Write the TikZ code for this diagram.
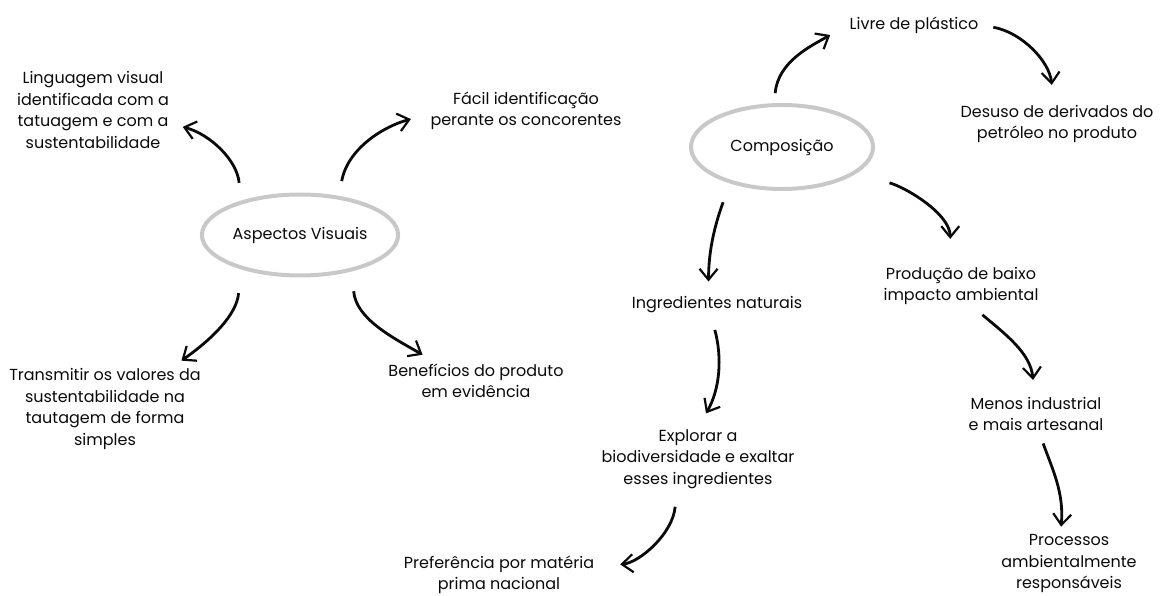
\documentclass[tikz,border=0pt]{standalone}
\usepackage{fontspec}
\setmainfont{Poppins}
\usepackage{tikz}
\usetikzlibrary{arrows.meta, shapes.geometric}
\definecolor{ringline}{HTML}{C8C8C8}
\definecolor{inkline}{HTML}{0A0A0A}
\tikzset{
  txt/.style   = {align=center, inner sep=2pt, text=inkline,
                  font=\fontsize{16}{21.5}\selectfont},
  ring/.style  = {ellipse, draw=ringline, line width=4pt, txt},
  flow/.style  = {-{Straight Barb[length=11pt, width=18pt, line width=2.2pt]},
                  line width=2.8pt, draw=inkline},
}
\begin{document}
\begin{tikzpicture}[x=1pt, y=1pt]
    \useasboundingbox (0,0) rectangle (1162,595);
    % left map
    \node[ring, minimum width=191pt, minimum height=81pt] (asp) at (300,360) {Aspectos Visuais};
    \node[txt] (ling)  at (93,485)  {Linguagem visual\\identificada com a\\tatuagem e com a\\sustentabilidade};
    \node[txt] (facil) at (526,484) {Fácil identificação\\perante os concorentes};
    \node[txt] (trans) at (105,186) {Transmitir os valores da\\sustentabilidade na\\tautagem de forma\\simples};
    \node[txt] (benef) at (476,214) {Benefícios do produto\\em evidência};
    % right map
    \node[ring, minimum width=182pt, minimum height=84pt] (comp) at (782,448) {Composição};
    \node[txt] (livre)   at (914,570)  {Livre de plástico};
    \node[txt] (desuso)  at (1057,471) {Desuso de derivados do\\petróleo no produto};
    \node[txt] (ingr)    at (717,290)  {Ingredientes naturais};
    \node[txt] (prod)    at (961,309)  {Produção de baixo\\impacto ambiental};
    \node[txt] (explo)   at (698,136)  {Explorar a\\biodiversidade e exaltar\\esses ingredientes};
    \node[txt] (pref)    at (499,20)   {Preferência por matéria\\prima nacional};
    \node[txt] (menos)   at (1036,181) {Menos industrial\\e mais artesanal};
    \node[txt] (proc)    at (1069,31)  {Processos\\ambientalmente\\responsáveis};
    % arrows
    \foreach \a/\b/\o/\i/\s/\e in {
        asp.150/ling.-10/95/-15/18pt/12pt,
        asp.45/facil.182/80/195/15pt/18pt,
        asp.210/trans.32/265/35/24pt/10pt,
        asp.-35/benef.155/-85/150/20pt/14pt,
        comp.100/livre.180/85/210/10pt/20pt,
        livre.0/desuso.100/-10/95/13pt/18pt,
        comp.215/ingr.129/250/90/20pt/13pt,
        comp.-20/prod.117/-15/90/35pt/26pt,
        ingr.-120/explo.90/-75/60/15pt/16pt,
        explo.236/pref.5/-95/5/16pt/24pt,
        prod.-60/menos.95/-40/95/12pt/15pt,
        menos.-80/proc.105/-70/85/11pt/6pt}
      {\draw[flow, shorten <=\s, shorten >=\e] (\a) to[out=\o, in=\i] (\b);}
\end{tikzpicture}
\end{document}
